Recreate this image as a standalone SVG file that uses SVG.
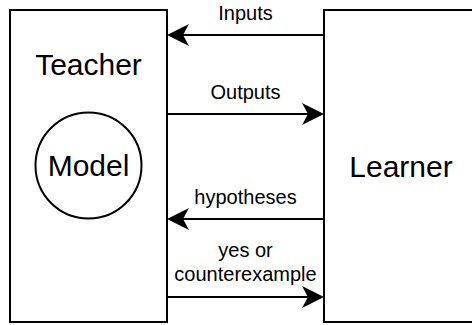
<svg xmlns="http://www.w3.org/2000/svg" width="472" height="325" viewBox="0 0 472 325">
  <style>
    .box { fill: #ffffff; stroke: #000000; stroke-width: 2; }
    .big { font-family: "Liberation Sans", Arial, Helvetica, sans-serif; font-size: 30px; fill: #000000; text-anchor: middle; }
    .lbl { font-family: "Liberation Sans", Arial, Helvetica, sans-serif; font-size: 20px; fill: #000000; text-anchor: middle; }
    .edge { fill: none; stroke: #000000; stroke-width: 2; }
  </style>
  <defs>
    <marker id="arrow" viewBox="0 0 22 22" refX="16" refY="11" markerWidth="22" markerHeight="22" orient="auto" markerUnits="userSpaceOnUse">
      <path d="M22,11 L0,0 L6,11 L0,22 Z" fill="#000000"/>
    </marker>
  </defs>
  <rect width="472" height="325" fill="#ffffff"/>

  <g id="teacher">
    <rect class="box" x="10" y="10" width="157" height="312"/>
    <text class="big" x="88.5" y="75">Teacher</text>
  </g>

  <g id="model">
    <circle cx="88.5" cy="165.5" r="53" fill="none" stroke="#000000" stroke-width="2"/>
    <text class="big" x="88.5" y="176">Model</text>
  </g>

  <g id="learner">
    <rect class="box" x="324" y="10" width="160" height="312"/>
    <text class="big" x="401" y="177">Learner</text>
  </g>

  <g id="connectors">
    <line class="edge" x1="324" y1="35" x2="173" y2="35" marker-end="url(#arrow)"/>
    <text class="lbl" x="245.5" y="20">Inputs</text>

    <line class="edge" x1="167" y1="114" x2="318" y2="114" marker-end="url(#arrow)"/>
    <text class="lbl" x="245.5" y="99">Outputs</text>

    <line class="edge" x1="324" y1="219" x2="173" y2="219" marker-end="url(#arrow)"/>
    <text class="lbl" x="245.5" y="204">hypotheses</text>

    <line class="edge" x1="167" y1="297" x2="318" y2="297" marker-end="url(#arrow)"/>
    <text class="lbl" x="245.5" y="257">yes or</text>
    <text class="lbl" x="245.5" y="281">counterexample</text>
  </g>
</svg>
